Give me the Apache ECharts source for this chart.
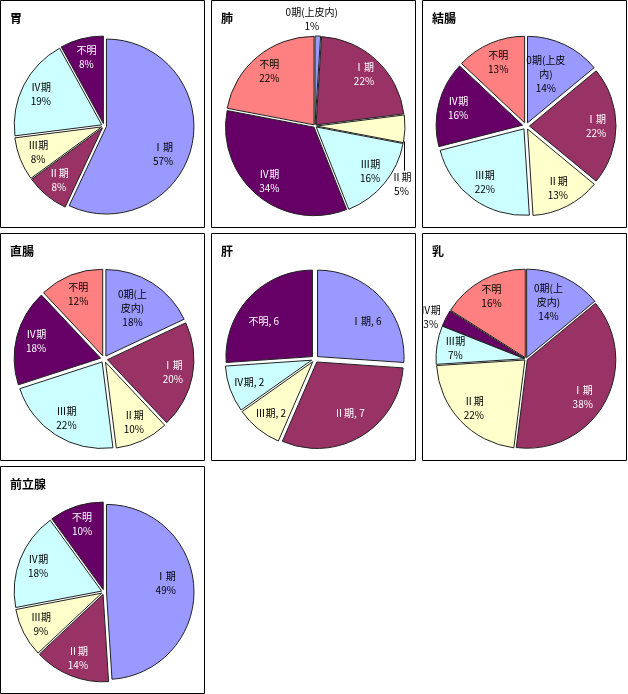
<!DOCTYPE html>
<html><head><meta charset="utf-8">
<script src="https://cdn.jsdelivr.net/npm/echarts@6/dist/echarts.min.js"></script>
<style>html,body{margin:0;padding:0;background:#fff}#c{width:628px;height:694px}</style>
</head><body><div id="c"></div>
<script>
// ---- data ----
const titles = ['胃', '肺', '結腸', '直腸', '肝', '乳', '前立腺'];
const stages5 = ['Ⅰ期', 'Ⅱ期', 'Ⅲ期', 'Ⅳ期', '不明'];
const stages6 = ['0期(上皮内)', 'Ⅰ期', 'Ⅱ期', 'Ⅲ期', 'Ⅳ期', '不明'];
const stomachValues  = [57, 8, 8, 19, 8];
const lungValues     = [1, 22, 5, 16, 34, 22];
const colonValues    = [14, 22, 13, 22, 16, 13];
const rectumValues   = [18, 20, 10, 22, 18, 12];
const liverValues    = [6, 7, 2, 2, 6];
const breastValues   = [14, 38, 22, 7, 3, 16];
const prostateValues = [49, 14, 9, 18, 10];

// ---- styles ----
const palette = ['#9999FF', '#993366', '#FFFFCC', '#CCFFFF', '#660066', '#FF8080'];
const darkFill = { '#993366': true, '#660066': true };
const FONT = '"Noto Sans CJK JP", "Noto Sans", sans-serif';

const charts = [
  { values: stomachValues, cats: stages5, mode: 'pct', offset: 2.5, nudge: { 0: [-10, 13] } },
  { values: lungValues, cats: stages6, mode: 'pct', offset: 1.5,
    outside: {
      0: p => ({ x: p.rect.x + p.rect.width / 2 - 6, y: p.rect.y - 18, align: 'center', verticalAlign: 'middle' }),
      2: p => {
        const rx = p.rect.x + p.rect.width + 1, rb = p.rect.y + p.rect.height;
        return { x: rx - 3, y: rb + 42, align: 'center', verticalAlign: 'middle',
                 labelLinePoints: [[rx, rb - 1], [rx, rb + 28], [rx, rb + 28]] };
      }
    }, line: { 2: true } },
  { values: colonValues, cats: stages6, mode: 'pct', offset: 3.5, wrap: { 0: '0期(上皮\n内)' }, nudge: { 0: [-10, 12] } },
  { values: rectumValues, cats: stages6, mode: 'pct', offset: 3.5, wrap: { 0: '0期(上\n皮内)' }, nudge: { 0: [-9, 8] } },
  { values: liverValues, cats: stages5, mode: 'count', offset: 3.5, nudge: { 0: [0, 10], 1: [-2, -6], 4: [0, 10] } },
  { values: breastValues, cats: stages6, mode: 'pct', offset: 1.5, wrap: { 0: '0期(上\n皮内)' },
    nudge: { 0: [-8, 8], 1: [-6, 4] },
    outside: {
      4: p => ({ x: p.rect.x - 13, y: p.rect.y + 6, align: 'center', verticalAlign: 'middle' })
    } },
  { values: prostateValues, cats: stages5, mode: 'pct', offset: 2.5, nudge: { 0: [-9, -7] } }
];

const colX = [0, 211, 422], rowY = [0, 233, 466];
const PW = 204, PH = 227, R = 90;

const option = { animation: false, title: [], series: [], graphic: [] };

charts.forEach((c, i) => {
  const x0 = colX[i % 3], y0 = rowY[Math.floor(i / 3)];
  const center = [x0 + 104, y0 + 126];
  const r = R - c.offset;
  option.graphic.push({ type: 'rect', silent: true,
    shape: { x: x0 + 0.5, y: y0 + 0.5, width: PW, height: PH },
    style: { fill: 'none', stroke: '#000', lineWidth: 1 } });
  option.title.push({ text: titles[i], left: x0 + 10, top: y0 + 12, padding: 0,
    textStyle: { fontFamily: FONT, fontSize: 12, fontWeight: 'bold', color: '#000' } });

  const slices = c.values.map((v, k) => ({
    name: c.cats[k], value: v, selected: true,
    itemStyle: { color: palette[k] }
  }));
  option.series.push({
    type: 'pie', center, radius: r, startAngle: 90, clockwise: true,
    selectedMode: 'multiple', selectedOffset: c.offset,
    avoidLabelOverlap: false,
    itemStyle: { borderColor: '#222', borderWidth: 1 },
    select: { itemStyle: { borderColor: '#222', borderWidth: 1 } },
    emphasis: { disabled: true },
    label: { show: false }, labelLine: { show: false },
    data: slices
  });

  const outside = c.outside || {};
  const nudge = c.nudge || {};
  const labels = c.values.map((v, k) => {
    const isOut = !!outside[k];
    return {
      name: c.cats[k], value: v,
      label: { position: isOut ? 'outside' : 'inside',
               color: (!isOut && darkFill[palette[k]]) ? '#fff' : '#000' },
      labelLine: { show: !!(c.line && c.line[k]), length: 4, length2: 0,
                   lineStyle: { color: '#000', width: 1 } }
    };
  });
  option.series.push({
    type: 'pie', center, radius: [r * 0.55, r], startAngle: 90, clockwise: true,
    silent: true, avoidLabelOverlap: false, minShowLabelAngle: 0,
    itemStyle: { color: 'rgba(0,0,0,0)', borderWidth: 0 },
    emphasis: { disabled: true },
    label: {
      show: true, fontFamily: FONT, fontSize: 10, lineHeight: 14,
      formatter: p => {
        const nm = (c.wrap && c.wrap[p.dataIndex]) || p.name;
        return c.mode === 'count' ? nm + ', ' + p.value : nm + '\n' + p.value + '%';
      }
    },
    labelLayout: p => {
      if (outside[p.dataIndex]) return outside[p.dataIndex](p);
      if (nudge[p.dataIndex]) return { dx: nudge[p.dataIndex][0], dy: nudge[p.dataIndex][1] };
      return {};
    },
    data: labels
  });
});

const chart = echarts.init(document.getElementById('c'), null, { renderer: 'canvas' });
chart.setOption(option);
</script>
</body></html>
